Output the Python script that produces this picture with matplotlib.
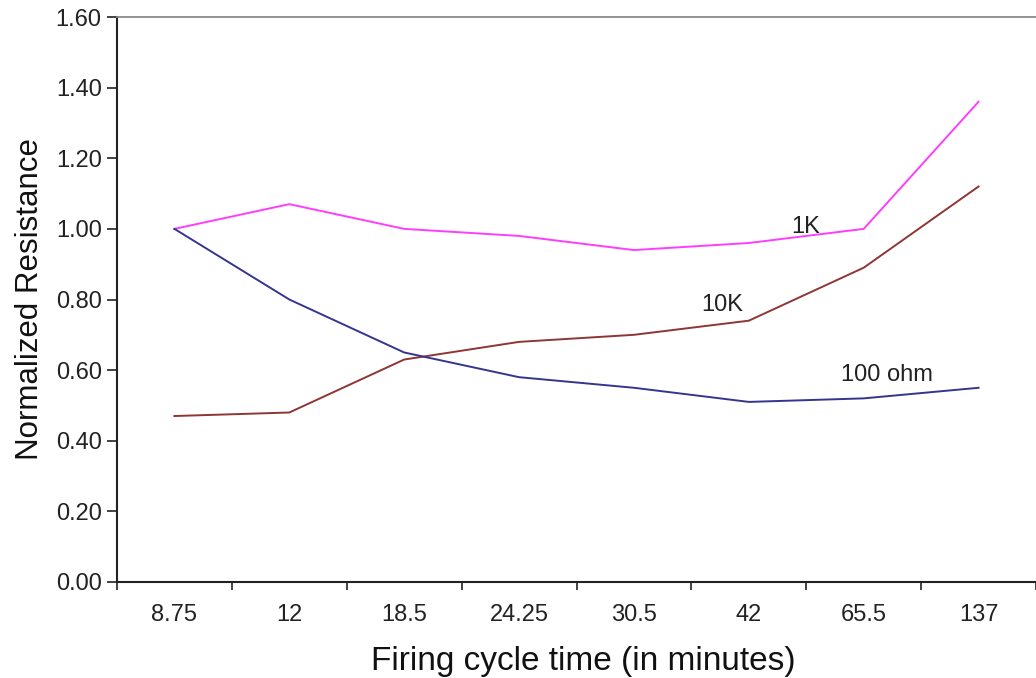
import matplotlib
matplotlib.use("Agg")
import matplotlib.pyplot as plt
import numpy as np

plt.rcParams['font.family'] = ['Liberation Sans', 'DejaVu Sans']

# Firing cycle times (minutes) used as categories
categories = ["8.75", "12", "18.5", "24.25", "30.5", "42", "65.5", "137"]

# Normalized resistance for each resistor value
r_1k = [1.00, 1.07, 1.00, 0.98, 0.94, 0.96, 1.00, 1.36]
r_10k = [0.47, 0.48, 0.63, 0.68, 0.70, 0.74, 0.89, 1.12]
r_100ohm = [1.00, 0.80, 0.65, 0.58, 0.55, 0.51, 0.52, 0.55]

y_ticks = [0.0, 0.2, 0.4, 0.6, 0.8, 1.0, 1.2, 1.4, 1.6]

W, H = 1036, 678
fig = plt.figure(figsize=(W / 100, H / 100), dpi=100)
ax = fig.add_axes([117 / W, (H - 582) / H, (W - 117) / W, (582 - 17) / H])

x = np.arange(len(categories))
ax.plot(x, r_1k, color="#ff3dff", lw=1.4)
ax.plot(x, r_10k, color="#8f3535", lw=1.4)
ax.plot(x, r_100ohm, color="#35358f", lw=1.4)

ax.set_xlim(-0.5, len(categories) - 0.5)
ax.set_ylim(0, 1.6)

# category labels centred, tick marks on the boundaries
ax.set_xticks(x)
ax.set_xticklabels(categories)
ax.tick_params(axis="x", which="major", length=0, pad=16, labelsize=17, labelcolor="#222222")
ax.set_xticks(np.arange(len(categories) + 1) - 0.5, minor=True)
ax.tick_params(axis="x", which="minor", length=6, width=1.2, direction="out", color="#222222")

ax.set_yticks(y_ticks)
ax.set_yticklabels([f"{v:.2f}" for v in y_ticks])
ax.tick_params(axis="y", length=7, width=1.2, direction="out", pad=4, labelsize=17,
               labelcolor="#222222", color="#222222")

for side in ("left", "bottom"):
    ax.spines[side].set_color("#222222")
    ax.spines[side].set_linewidth(1.5)
ax.spines["top"].set_color("#8a8a8a")
ax.spines["top"].set_linewidth(1.3)
ax.spines["right"].set_visible(False)

ax.set_xlabel("Firing cycle time (in minutes)", fontsize=24, color="#111111")
ax.xaxis.set_label_coords(0.507, -0.113)
ax.set_ylabel("Normalized Resistance", fontsize=22.5, color="#111111", labelpad=8)

# series labels placed beside their lines
ax.text(5.37, 1.005, "1K", fontsize=17, color="#222222", ha="left", va="center")
ax.text(4.59, 0.785, "10K", fontsize=17, color="#222222", ha="left", va="center")
ax.text(5.80, 0.587, "100 ohm", fontsize=17, color="#222222", ha="left", va="center")

fig.savefig("out.png", dpi=100)
